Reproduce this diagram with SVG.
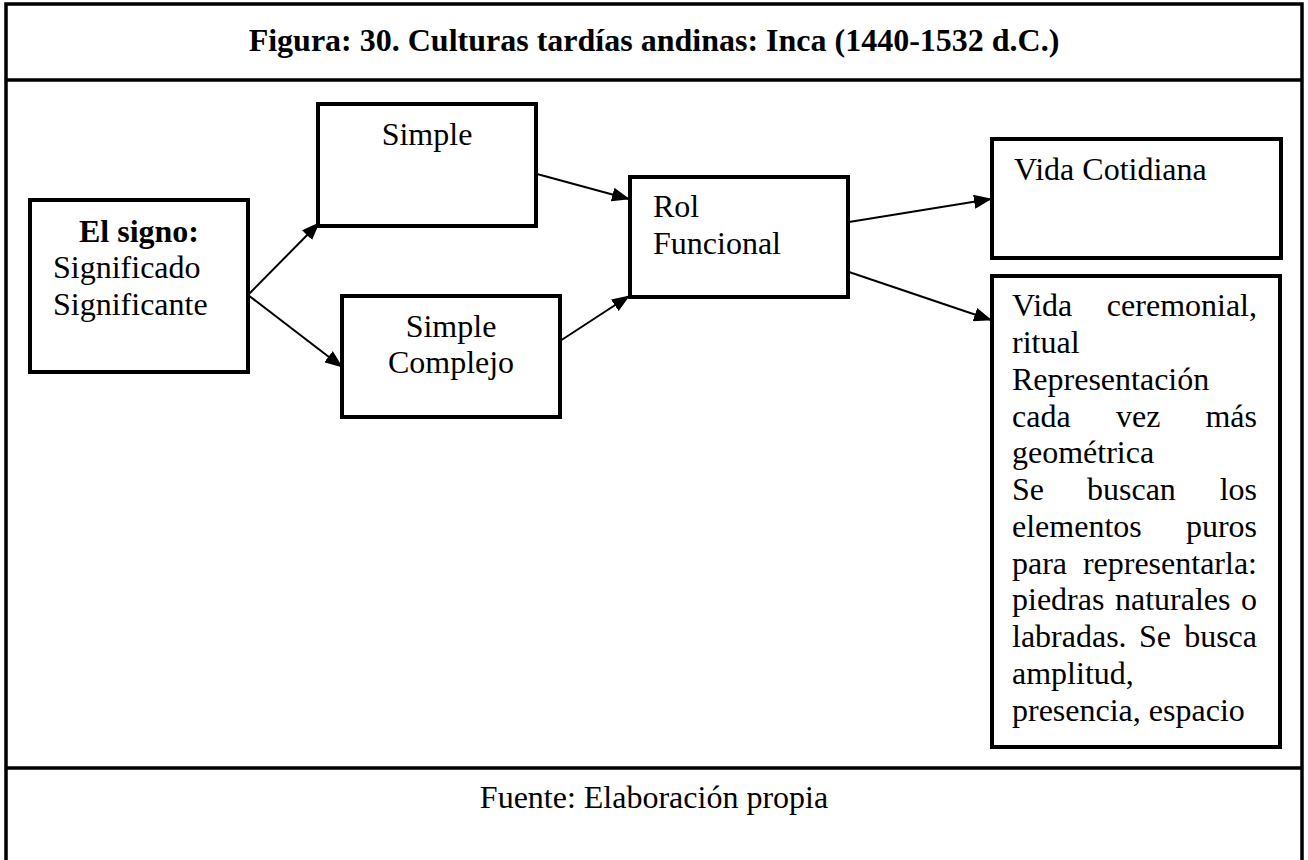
<svg xmlns="http://www.w3.org/2000/svg" width="1308" height="860" viewBox="0 0 1308 860">
<defs>
<style>
.t{font-family:"Liberation Serif","Times New Roman",serif;font-size:32px;fill:#000}
.b{font-weight:bold}
.box{fill:#fff;stroke:#000;stroke-width:4}
.frame{fill:none;stroke:#000;stroke-width:3.5}
.con{fill:none;stroke:#000;stroke-width:2}
</style>
<marker id="ah" markerUnits="userSpaceOnUse" markerWidth="18" markerHeight="14" viewBox="0 0 18 14" refX="17" refY="7" orient="auto">
<path d="M0,0 L18,7 L0,14 Z" fill="#000"/>
</marker>
</defs>
<rect width="1308" height="860" fill="#fff"/>
<g id="frame">
<path class="frame" d="M6,860 V4 H1302 V860"/>
<line class="frame" x1="6" y1="80" x2="1302" y2="80"/>
<line class="frame" x1="6" y1="768" x2="1302" y2="768"/>
<text class="t b" x="654" y="51" text-anchor="middle">Figura: 30. Culturas tardías andinas: Inca (1440-1532 d.C.)</text>
<text class="t" x="654" y="808" text-anchor="middle">Fuente: Elaboración propia</text>
</g>
<g id="connectors">
<line class="con" x1="248" y1="295" x2="319" y2="223" marker-end="url(#ah)"/>
<line class="con" x1="248" y1="295" x2="342" y2="367" marker-end="url(#ah)"/>
<line class="con" x1="537" y1="174" x2="629" y2="199" marker-end="url(#ah)"/>
<line class="con" x1="560" y1="341" x2="629" y2="296" marker-end="url(#ah)"/>
<line class="con" x1="849" y1="222" x2="991" y2="199" marker-end="url(#ah)"/>
<line class="con" x1="849" y1="272" x2="991" y2="320" marker-end="url(#ah)"/>
</g>
<g id="signo">
<rect class="box" x="30" y="200" width="218" height="172"/>
<text class="t b" x="139" y="242" text-anchor="middle">El signo:</text>
<text class="t" x="53" y="278">Significado</text>
<text class="t" x="53" y="315">Significante</text>
</g>
<g id="simple">
<rect class="box" x="318" y="104" width="218" height="122"/>
<text class="t" x="427" y="145" text-anchor="middle">Simple</text>
</g>
<g id="simple-complejo">
<rect class="box" x="342" y="296" width="218" height="121"/>
<text class="t" x="451" y="337" text-anchor="middle">Simple</text>
<text class="t" x="451" y="373" text-anchor="middle">Complejo</text>
</g>
<g id="rol">
<rect class="box" x="630" y="177" width="218" height="120"/>
<text class="t" x="653" y="217">Rol</text>
<text class="t" x="653" y="254">Funcional</text>
</g>
<g id="vida-cotidiana">
<rect class="box" x="992" y="139" width="289" height="119"/>
<text class="t" x="1014" y="180">Vida Cotidiana</text>
</g>
<g id="vida-ceremonial">
<rect class="box" x="992" y="276" width="288" height="471"/>
<text class="t" x="1012" y="316">Vida</text><text class="t" x="1257" y="316" text-anchor="end">ceremonial,</text>
<text class="t" x="1012" y="353">ritual</text>
<text class="t" x="1012" y="390">Representación</text>
<text class="t" x="1012" y="427">cada</text><text class="t" x="1116" y="427">vez</text><text class="t" x="1257" y="427" text-anchor="end">más</text>
<text class="t" x="1012" y="463">geométrica</text>
<text class="t" x="1012" y="500">Se</text><text class="t" x="1087" y="500">buscan</text><text class="t" x="1257" y="500" text-anchor="end">los</text>
<text class="t" x="1012" y="537">elementos</text><text class="t" x="1257" y="537" text-anchor="end">puros</text>
<text class="t" x="1012" y="574">para</text><text class="t" x="1257" y="574" text-anchor="end">representarla:</text>
<text class="t" x="1012" y="610">piedras</text><text class="t" x="1115" y="610">naturales</text><text class="t" x="1257" y="610" text-anchor="end">o</text>
<text class="t" x="1012" y="647">labradas.</text><text class="t" x="1139" y="647">Se</text><text class="t" x="1257" y="647" text-anchor="end">busca</text>
<text class="t" x="1012" y="684">amplitud,</text>
<text class="t" x="1012" y="721">presencia, espacio</text>
</g>
</svg>
